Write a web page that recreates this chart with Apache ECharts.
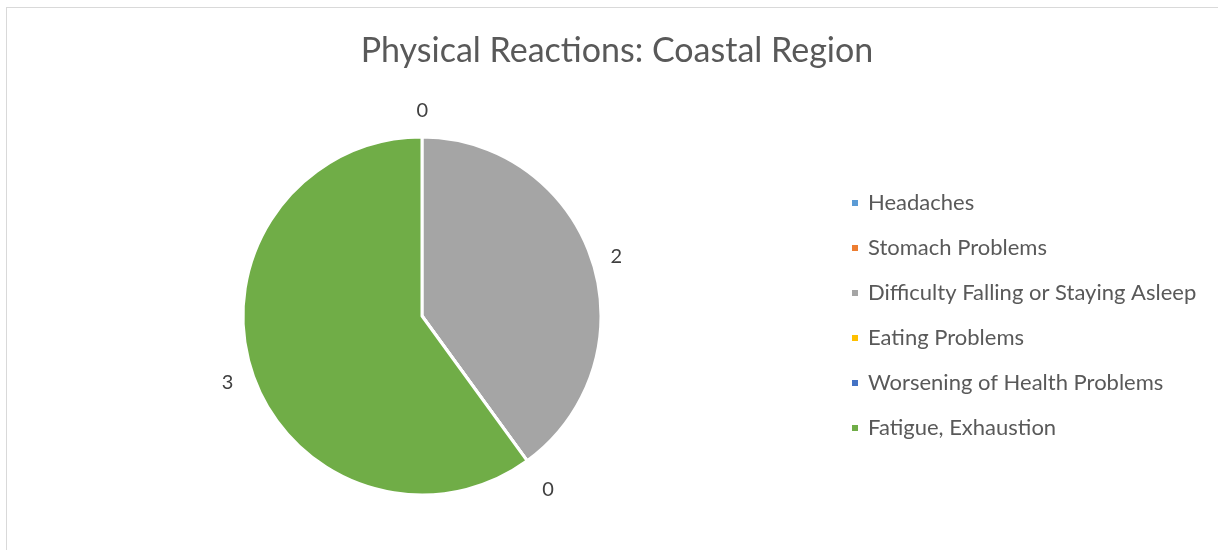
<!DOCTYPE html>
<html>
<head>
<meta charset="utf-8">
<script src="https://cdn.jsdelivr.net/npm/echarts@6/dist/echarts.min.js"></script>
<style>
  html, body { margin: 0; padding: 0; background: #fff; }
  #frame {
    position: absolute; left: 6px; top: 7px; width: 1230px; height: 560px;
    border: 1px solid #d9d9d9; box-sizing: border-box;
  }
  #main { position: absolute; left: 0; top: 0; width: 1218px; height: 550px; }
</style>
</head>
<body>
<div id="frame"></div>
<div id="main"></div>
<script>
  // reactions and counts
  const categories = ['Headaches', 'Stomach Problems', 'Difficulty Falling or Staying Asleep',
    'Eating Problems', 'Worsening of Health Problems', 'Fatigue, Exhaustion'];
  const counts = [0, 0, 2, 0, 0, 3];
  const colors = ['#5b9bd5', '#ed7d31', '#a5a5a5', '#ffc000', '#4472c4', '#70ad47'];

  // small nudges so labels sit where excel put them
  const labelTweaks = {
    'Headaches': { label: { distanceToLabelLine: -6 }, labelLine: { length: 26 } },
    'Eating Problems': { label: { distanceToLabelLine: -6 }, labelLine: { length: 36 } },
    'Fatigue, Exhaustion': { label: { formatter: '\n{c}', lineHeight: 14 } }
  };

  const chart = echarts.init(document.getElementById('main'));
  chart.setOption({
    animation: false,
    color: colors,
    title: {
      text: 'Physical Reactions: Coastal Region',
      left: 612, top: 29, textAlign: 'center',
      textStyle: { fontFamily: 'Lato', fontSize: 34, fontWeight: 'normal', color: '#595959' }
    },
    legend: {
      orient: 'vertical',
      left: 845, top: 187,
      icon: 'rect', itemWidth: 8, itemHeight: 8,
      itemGap: 23,
      textStyle: { fontFamily: 'Lato', fontSize: 22, color: '#595959', padding: [0, 0, 0, 4] },
      data: categories
    },
    series: [{
      type: 'pie',
      center: [422, 316],
      radius: 179,
      startAngle: 90,
      clockwise: true,
      avoidLabelOverlap: false,
      labelLayout: { hideOverlap: true },
      itemStyle: { borderColor: '#fff', borderWidth: 3 },
      label: {
        show: true, position: 'outside',
        fontFamily: 'Lato', fontSize: 20, color: '#404040',
        formatter: '{c}'
      },
      labelLine: { show: false, length: 14, length2: 0 },
      emphasis: { disabled: true },
      data: categories.map((name, i) => Object.assign({ name, value: counts[i] }, labelTweaks[name] || {}))
    }]
  });
</script>
</body>
</html>
